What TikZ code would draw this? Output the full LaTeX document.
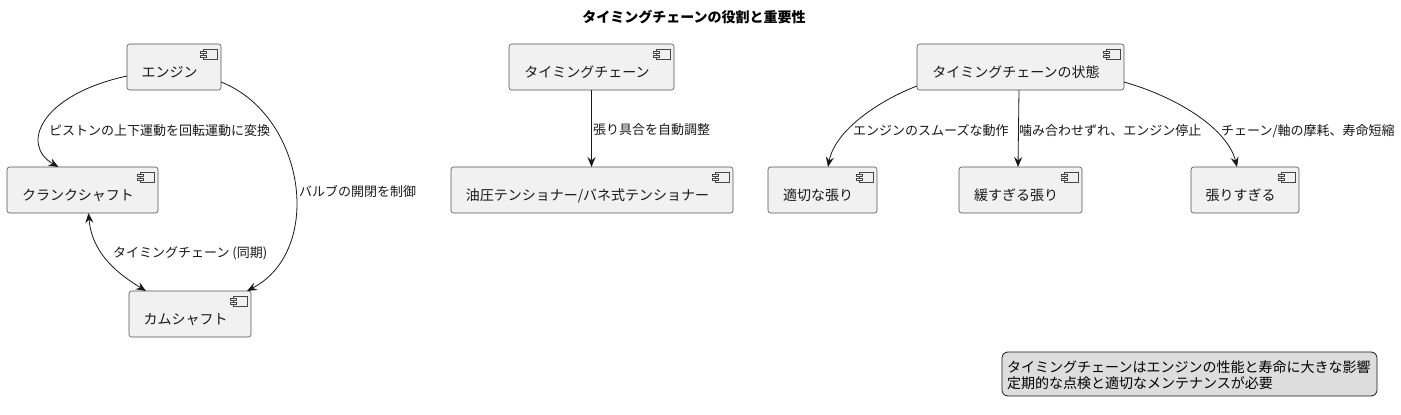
\documentclass[tikz,border=0pt]{standalone}
\usepackage{fontspec}
\setmainfont{Noto Sans CJK JP}
\usetikzlibrary{arrows.meta,calc}
\definecolor{boxfill}{HTML}{F1F1F1}
\definecolor{ink}{HTML}{181818}
\definecolor{notefill}{HTML}{DDDDDD}
\tikzset{
  cbox/.style={draw=ink!75, fill=boxfill, line width=0.6pt, rounded corners=2.5pt, inner sep=0pt, outer sep=0pt, anchor=north west},
  cicon/.style={draw=ink!80, fill=boxfill, line width=0.5pt},
  ctext/.style={inner sep=0pt, anchor=base, font=\fontsize{14}{16}\selectfont, text=ink},
  elabel/.style={inner sep=0pt, anchor=base west, font=\fontsize{13}{15}\selectfont, text=ink},
  conn/.style={draw=ink, line width=0.8pt, -{Stealth[length=10pt,width=8pt,inset=3.5pt]}},
  bconn/.style={draw=ink, line width=0.8pt, {Stealth[length=10pt,width=8pt,inset=3.5pt]}-{Stealth[length=10pt,width=8pt,inset=3.5pt]}},
  notebox/.style={draw=ink, fill=notefill, line width=0.8pt, rounded corners=6pt, inner sep=0pt, outer sep=0pt, anchor=north west},
  ntext/.style={inner sep=0pt, anchor=base west, font=\fontsize{14}{16}\selectfont, text=black},
}
\newcommand\compbox[6]{%
  \node[cbox, minimum width=#4pt, minimum height=#5pt] (#1) at (#2,#3) {};
  \draw[cicon] ($(#1.north east)+(-18,5)$) rectangle ($(#1.north east)+(-4,15)$);
  \draw[cicon] ($(#1.north east)+(-21,7)$) rectangle ++(6,2.5);
  \draw[cicon] ($(#1.north east)+(-21,11)$) rectangle ++(6,2.5);
  \node[ctext] (#1t) at ($(#1.center)+(-4.5,10)$) {#6};
}
\begin{document}
\begin{tikzpicture}[x=1pt,y=-1pt]
\useasboundingbox (0,0) rectangle (1401,415);
\node[inner sep=0pt, anchor=base, font=\fontsize{14}{16}\selectfont\bfseries, text=black] (title) at (694,22) {タイミングチェーンの役割と重要性};

\compbox{eng}{127}{44}{94}{46}{エンジン}
\compbox{crank}{7}{167}{151}{46}{クランクシャフト}
\compbox{cam}{129}{291}{122}{46}{カムシャフト}
\compbox{tc}{509}{44}{165}{46}{タイミングチェーン}
\compbox{ten}{451}{167}{282}{46}{油圧テンショナー/バネ式テンショナー}
\compbox{st}{917}{44}{207}{46}{タイミングチェーンの状態}
\compbox{good}{768}{167}{109}{46}{適切な張り}
\compbox{slow}{959}{167}{123}{46}{緩すぎる張り}
\compbox{tight}{1191}{167}{108}{46}{張りすぎる}

\draw[conn] ($(eng.west)+(0,9)$) .. controls (40,95) and (20,145) .. ($(crank.north)+(-24,0)$);
\draw[conn] ($(eng.east)+(0,15)$) .. controls (305,115) and (325,250) .. ($(cam.north east)+(-4,0)$);
\draw[bconn] ($(crank.south)+(6,0)$) .. controls (92,255) and (120,275) .. ($(cam.north)+(-44,0)$);
\draw[conn] (tc.south) -- (tc.south |- ten.north);
\draw[conn] ($(st.west)+(0,19)$) .. controls (880,100) and (835,130) .. ($(good.north)+(5.5,0)$);
\draw[conn] ($(st.south)+(-1.5,0)$) -- ($(slow.north)+(-2.5,0)$);
\draw[conn] ($(st.east)+(0,15)$) .. controls (1180,98) and (1228,130) .. ($(tight.north)+(-8,0)$);

\node[elabel] (l1) at (49,135) {ピストンの上下運動を回転運動に変換};
\node[elabel] (l2) at (299,196) {バルブの開閉を制御};
\node[elabel] (l3) at (113,257) {タイミングチェーン (同期)};
\node[elabel] (l4) at (593,134) {張り具合を自動調整};
\node[elabel] (l5) at (853,135) {エンジンのスムーズな動作};
\node[elabel] (l6) at (1019,135) {噛み合わせずれ、エンジン停止};
\node[elabel] (l7) at (1221,135) {チェーン/軸の摩耗、寿命短縮};

\node[notebox, minimum width=375pt, minimum height=44pt] (note) at (1002,352) {};
\node[ntext] (n1) at (1007,372) {タイミングチェーンはエンジンの性能と寿命に大きな影響};
\node[ntext] (n2) at (1007,388) {定期的な点検と適切なメンテナンスが必要};
\end{tikzpicture}
\end{document}
